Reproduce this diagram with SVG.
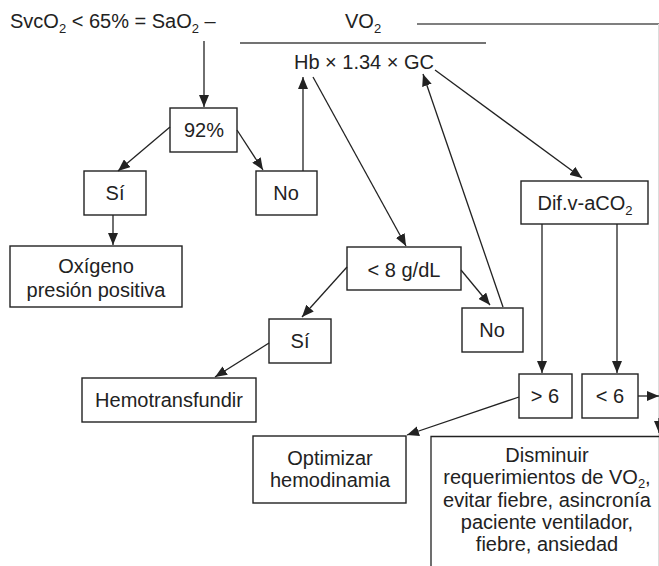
<svg xmlns="http://www.w3.org/2000/svg" width="659" height="566" viewBox="0 0 659 566">
<style>
text{font-family:"Liberation Sans",Arial,sans-serif;font-size:20px;fill:#222;}
.c{text-anchor:middle;}
.sub{font-size:13px;}
.box{fill:#fff;stroke:#222;stroke-width:1.4;}
.ln{stroke:#222;stroke-width:1.3;fill:none;}
.arr{stroke:#222;stroke-width:1.3;fill:none;marker-end:url(#ah);}
</style>
<defs>
<marker id="ah" viewBox="0 0 12 10" refX="12" refY="5" markerWidth="12" markerHeight="10" orient="auto" markerUnits="userSpaceOnUse">
<path d="M0,0 L12,5 L0,10 z" fill="#222"/>
</marker>
</defs>
<rect width="659" height="566" fill="#fff"/>
<g id="formula">
<text x="10" y="28">SvcO<tspan class="sub" dy="5">2</tspan><tspan dy="-5"> &lt; 65% = SaO</tspan><tspan class="sub" dy="5">2</tspan><tspan dy="-5"> –</tspan></text>
<text x="345" y="28">VO<tspan class="sub" dy="5">2</tspan></text>
<line x1="417" y1="24" x2="659" y2="24" stroke="#555" stroke-width="1.6"/>
<line x1="658.5" y1="24" x2="658.5" y2="566" stroke="#dcdcdc" stroke-width="1"/>
<line x1="240" y1="43" x2="486" y2="43" stroke="#444" stroke-width="1.5"/>
<text x="364" y="69" class="c">Hb × 1.34 × GC</text>
</g>
<g id="n92">
<rect class="box" x="170" y="108" width="67" height="44"/>
<text x="204" y="137" class="c">92%</text>
</g>
<g id="si1">
<rect class="box" x="84" y="171" width="62" height="44"/>
<text x="115" y="200" class="c">Sí</text>
</g>
<g id="no1">
<rect class="box" x="256" y="171" width="61" height="44"/>
<text x="286" y="200" class="c">No</text>
</g>
<g id="oxigeno">
<rect class="box" x="10" y="246" width="172" height="61"/>
<text x="96" y="273" class="c">Oxígeno</text>
<text x="96" y="297" class="c">presión positiva</text>
</g>
<g id="hb8">
<rect class="box" x="347" y="247" width="114" height="43"/>
<text x="404" y="277" class="c">&lt; 8 g/dL</text>
</g>
<g id="no2">
<rect class="box" x="462" y="308" width="61" height="44"/>
<text x="492" y="337" class="c">No</text>
</g>
<g id="si2">
<rect class="box" x="269" y="319" width="62" height="44"/>
<text x="300" y="348" class="c">Sí</text>
</g>
<g id="hemo">
<rect class="box" x="82" y="378" width="174" height="44"/>
<text x="169" y="407" class="c">Hemotransfundir</text>
</g>
<g id="dif">
<rect class="box" x="521" y="181" width="127" height="43"/>
<text x="585" y="210" class="c">Dif.v-aCO<tspan class="sub" dy="5">2</tspan></text>
</g>
<g id="gt6">
<rect class="box" x="519" y="374" width="53" height="44"/>
<text x="545" y="403" class="c">&gt; 6</text>
</g>
<g id="lt6">
<rect class="box" x="582" y="374" width="56" height="44"/>
<text x="610" y="403" class="c">&lt; 6</text>
</g>
<g id="optimizar">
<rect class="box" x="253" y="436" width="153" height="67"/>
<text x="330" y="465" class="c">Optimizar</text>
<text x="330" y="487" class="c">hemodinamia</text>
</g>
<g id="disminuir">
<path class="ln" d="M431,566 L431,436.5 L659,436.5" stroke-width="1.4"/>
<text x="547" y="462" class="c">Disminuir</text>
<text x="547" y="484" class="c">requerimientos de VO<tspan class="sub" dy="4">2</tspan><tspan dy="-4">,</tspan></text>
<text x="547" y="507" class="c">evitar fiebre, asincronía</text>
<text x="547" y="529" class="c">paciente ventilador,</text>
<text x="547" y="551" class="c">fiebre, ansiedad</text>
</g>
<g id="connectors">
<line class="arr" x1="204" y1="41" x2="204" y2="107"/>
<line class="arr" x1="170" y1="127" x2="118" y2="171"/>
<line class="arr" x1="237" y1="130" x2="263" y2="170"/>
<line class="arr" x1="303" y1="171" x2="303" y2="77"/>
<line class="arr" x1="313" y1="77" x2="406" y2="246"/>
<line class="arr" x1="503" y1="307" x2="423" y2="74"/>
<line class="arr" x1="435" y1="70" x2="582" y2="178"/>
<line class="arr" x1="461" y1="270" x2="490" y2="305"/>
<line class="arr" x1="347" y1="267" x2="302" y2="317"/>
<line class="arr" x1="113" y1="215" x2="113" y2="245"/>
<line class="arr" x1="269" y1="343" x2="215" y2="377"/>
<line class="arr" x1="542" y1="224" x2="542" y2="373"/>
<line class="arr" x1="617" y1="224" x2="617" y2="373"/>
<line class="arr" x1="638" y1="396" x2="659" y2="396"/>
<line class="arr" x1="519" y1="397" x2="407" y2="435"/>
<line class="arr" x1="659" y1="418" x2="659" y2="433"/>
</g>
</svg>
